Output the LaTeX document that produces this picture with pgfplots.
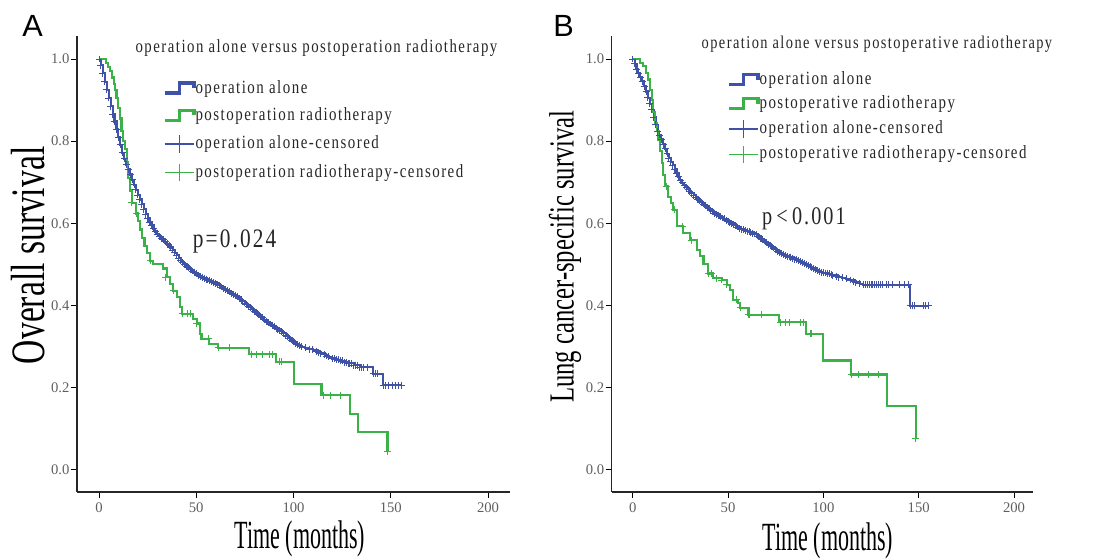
\documentclass[border=0pt]{standalone}
\usepackage{fontspec}
\setmainfont{Liberation Serif}
\newfontfamily\fx[FakeStretch=0.55]{Liberation Serif}
\newfontfamily\fy[FakeStretch=0.7]{Liberation Serif}
\newfontfamily\fm[FakeStretch=0.8, LetterSpace=8]{Liberation Serif}
\newfontfamily\fsans{Liberation Sans}
\usepackage{pgfplots}
\usepackage{pgfplotstable}
\pgfplotsset{compat=1.18}
\definecolor{kmblue}{RGB}{62,82,168}
\definecolor{kmgreen}{RGB}{58,178,72}
\definecolor{tickgray}{RGB}{95,95,95}

\pgfplotsset{
  km/.style={
    scale only axis, height=342pt,
    axis lines*=left,
    xmin=-11.3, xmax=211.3, ymin=-0.054, ymax=1.056,
    xtick={0,50,100,150,200}, ytick={0,0.2,0.4,0.6,0.8,1},
    tick align=outside, major tick length=4.5pt,
    tick style={black, line width=0.6pt},
    axis line style={black!85, line width=0.8pt},
    ticklabel style={font=\fontsize{11}{11}\selectfont, text=tickgray},
    y tick label style={inner sep=1pt, /pgf/number format/.cd, fixed, fixed zerofill, precision=1, /tikz/.cd},
    /pgf/number format/assume math mode=true,
    clip=false,
    legend cell align=left,
  },
  steplegend/.style={legend image code/.code={\draw[##1,line width=2.4pt] (0pt,-3.5pt) -- (11pt,-3.5pt) -- (11pt,4pt) -- (22pt,4pt) -- (22pt,0.5pt);}},
  censblue/.style={legend image code/.code={\draw[draw=kmblue,line width=1pt] (0pt,0pt) -- (22pt,0pt) (11pt,-6.5pt) -- (11pt,6.5pt);}},
  censgreen/.style={legend image code/.code={\draw[draw=kmgreen,line width=1pt] (0pt,0pt) -- (22pt,0pt) (11pt,-6.5pt) -- (11pt,6.5pt);}},
  curve/.style={line width=1.6pt, const plot, forget plot},
  cens/.style={only marks, mark=+, mark size=2.6pt, mark options={line width=0.7pt}, forget plot},
}

% A: overall survival, operation alone
\pgfplotstableread{
t s
0 1.000
1 0.985
2 0.965
3 0.945
4 0.925
5 0.905
6 0.885
7 0.866
8 0.848
9 0.829
10 0.810
11 0.791
12 0.772
13 0.757
14 0.743
15 0.731
16 0.719
17 0.706
18 0.694
19 0.682
20 0.669
21 0.658
22 0.646
23 0.634
24 0.622
25 0.612
26 0.603
27 0.595
28 0.587
29 0.580
30 0.574
31 0.569
32 0.564
33 0.560
34 0.555
35 0.550
36 0.546
37 0.541
38 0.535
39 0.528
40 0.522
41 0.515
42 0.509
43 0.504
44 0.500
45 0.496
46 0.492
47 0.488
48 0.484
49 0.481
50 0.477
51 0.473
52 0.470
53 0.468
54 0.466
55 0.464
56 0.462
57 0.460
58 0.458
59 0.456
60 0.454
61 0.451
62 0.448
63 0.445
64 0.442
65 0.439
66 0.436
67 0.433
68 0.430
69 0.427
70 0.424
71 0.421
72 0.417
73 0.414
74 0.410
75 0.406
76 0.402
77 0.398
78 0.394
79 0.390
80 0.386
81 0.382
82 0.378
83 0.374
84 0.370
85 0.365
86 0.361
87 0.358
88 0.355
89 0.352
90 0.349
91 0.345
92 0.342
93 0.339
94 0.336
95 0.332
96 0.328
97 0.324
98 0.320
99 0.316
100 0.312
101 0.308
102 0.305
103 0.302
104 0.300
106 0.297
108 0.294
110 0.292
112 0.289
113 0.286
114 0.284
116 0.280
117 0.277
118 0.275
120 0.271
121 0.271
122 0.268
123 0.268
124 0.265
125 0.265
126 0.262
127 0.262
128 0.259
129 0.259
130 0.259
131 0.255
132 0.255
133 0.255
134 0.250
135 0.250
136 0.250
138 0.250
141 0.234
142 0.234
143 0.234
146 0.206
147.5 0.206
149 0.206
151 0.206
152.5 0.206
154 0.206
155.5 0.206
}\blueA

% A: overall survival, postoperation radiotherapy
\pgfplotstableread{
t s
0 1.000
3.6 0.990
4.5 0.980
5.6 0.970
6.5 0.955
7.5 0.940
8.2 0.925
9.0 0.905
9.9 0.880
10.8 0.855
11.6 0.825
12.5 0.800
13.4 0.780
14.3 0.750
15.1 0.710
16.0 0.680
16.8 0.650
19.0 0.624
20.0 0.605
21.1 0.585
22.3 0.565
23.4 0.545
24.5 0.527
26.2 0.509
27.9 0.502
33.0 0.490
34.8 0.469
36.5 0.453
38.2 0.436
39.9 0.420
41.6 0.396
42.5 0.380
48.5 0.368
50.2 0.356
51.9 0.331
52.7 0.319
56.7 0.307
61.3 0.297
77.2 0.281
90.9 0.263
100.2 0.208
114.4 0.182
128.9 0.136
133.2 0.091
148.3 0.044
}\greenA

\pgfplotstableread{
t s
16.8 0.650
19.3 0.624
26.5 0.509
34.0 0.469
38.5 0.436
43.0 0.380
45.5 0.380
47.0 0.380
50.2 0.356
56.2 0.319
61.3 0.297
67.3 0.297
78.2 0.281
80.8 0.281
84.2 0.281
87.7 0.281
89.4 0.281
93.0 0.263
93.8 0.263
115.4 0.182
118.8 0.182
124.0 0.182
148.3 0.044
}\greenAcens

% B: lung cancer-specific survival, operation alone
\pgfplotstableread{
t s
0 1.000
1 0.988
2 0.975
3 0.965
4 0.956
5 0.946
6 0.934
7 0.921
8 0.906
9 0.891
10 0.876
11 0.858
12 0.840
13 0.824
14 0.815
15 0.805
16 0.793
17 0.781
18 0.769
19 0.759
20 0.750
21 0.741
22 0.731
23 0.722
24 0.713
25 0.705
26 0.699
27 0.693
28 0.688
29 0.683
30 0.677
31 0.673
32 0.668
33 0.664
34 0.659
35 0.655
36 0.651
37 0.647
38 0.643
39 0.639
40 0.635
41 0.632
42 0.628
43 0.625
44 0.622
45 0.619
46 0.616
47 0.613
48 0.611
49 0.608
50 0.605
51 0.602
52 0.600
53 0.597
54 0.594
55 0.591
56 0.588
57 0.586
58 0.585
59 0.583
60 0.581
61 0.579
62 0.578
63 0.576
64 0.574
65 0.572
66 0.568
67 0.564
68 0.560
69 0.557
70 0.553
71 0.549
72 0.546
73 0.543
74 0.540
75 0.536
76 0.532
77 0.528
78 0.526
79 0.524
80 0.522
81 0.520
82 0.518
83 0.517
84 0.515
85 0.513
86 0.511
87 0.509
88 0.507
89 0.504
90 0.502
91 0.499
92 0.497
93 0.494
94 0.492
95 0.490
96 0.487
97 0.485
98 0.482
99 0.481
100 0.480
101 0.479
102 0.478
103 0.477
104 0.475
105 0.474
107 0.471
108 0.469
110 0.467
112 0.465
114 0.462
116 0.459
117 0.456
119 0.453
121 0.450
122 0.450
123 0.450
124 0.450
125 0.450
126 0.450
127 0.450
128 0.450
129 0.450
130 0.450
131 0.450
133 0.450
134 0.450
136 0.450
140 0.450
142.8 0.450
144.6 0.450
145.5 0.399
146.5 0.399
148 0.399
152.4 0.399
153.8 0.399
155.1 0.399
}\blueB

% B: lung cancer-specific survival, postoperative radiotherapy
\pgfplotstableread{
t s
0 1.000
3.8 0.990
5.6 0.982
7.0 0.965
8.2 0.950
9.2 0.925
10.0 0.901
10.8 0.870
11.7 0.845
12.6 0.825
13.5 0.804
14.4 0.775
15.2 0.747
16.1 0.718
17.0 0.690
18.7 0.665
20.0 0.650
21.3 0.633
23.1 0.593
26.6 0.576
30.1 0.559
33.6 0.535
35.3 0.520
37.1 0.502
39.7 0.478
42.3 0.466
46.7 0.462
49.3 0.450
51.0 0.438
52.4 0.414
55.4 0.406
56.3 0.394
60.7 0.377
76.9 0.359
90.9 0.331
100.0 0.266
114.3 0.232
133.2 0.155
148.4 0.077
}\greenB

\pgfplotstableread{
t s
17.5 0.690
22.0 0.633
26.0 0.593
31.0 0.559
39.7 0.478
41.4 0.478
44.1 0.466
46.7 0.462
49.3 0.450
54.5 0.414
56.3 0.394
60.7 0.377
61.5 0.377
67.7 0.377
77.3 0.359
79.9 0.359
82.2 0.359
87.8 0.359
89.5 0.359
93.0 0.331
93.9 0.331
114.9 0.232
118.4 0.232
123.6 0.232
128.8 0.232
148.4 0.077
}\greenBcens

\begin{document}
\begin{tikzpicture}
\path[use as bounding box] (0,0) rectangle (827.25pt,420pt);

\node[anchor=base west, inner sep=0pt, font=\fsans\fontsize{23}{23}\selectfont] at (16.5pt,392.25pt) {A};
\node[anchor=base west, inner sep=0pt, font=\fsans\fontsize{23}{23}\selectfont] at (414.75pt,392.25pt) {B};

\begin{axis}[km, at={(57.75pt,51pt)}, anchor=south west, width=324.75pt,
  xlabel={Time (months)},
  ylabel={Overall survival},
  xlabel style={at={(axis description cs:0.515,-0.063)}, anchor=north, inner sep=0pt, font=\fx\fontsize{30}{30}\selectfont},
  ylabel style={at={(axis description cs:-0.114,0.519)}, anchor=center, inner sep=0pt, font=\fy\fontsize{36}{36}\selectfont},
  legend style={draw=none, fill=none, at={(0.1986,0.904)}, anchor=north west,
    font=\fm\fontsize{14}{14}\selectfont, text=black!85, row sep=7.6pt,
    inner sep=0pt, outer sep=0pt,
    nodes={inner sep=0pt, text height=10pt, text depth=3pt},
    /tikz/every even column/.append style={column sep=3.75pt}},
]
\addplot[kmblue, curve] table {\blueA};
\addplot[kmblue, cens] table {\blueA};
\addplot[kmgreen, curve] table {\greenA};
\addplot[kmgreen, cens] table {\greenAcens};
\addlegendimage{kmblue, steplegend}
\addlegendentry{operation alone}
\addlegendimage{kmgreen, steplegend}
\addlegendentry{postoperation radiotherapy}
\addlegendimage{kmblue, censblue}
\addlegendentry{operation alone-censored}
\addlegendimage{kmgreen, censgreen}
\addlegendentry{postoperation radiotherapy-censored}
\node[font=\fm\fontsize{13.9}{13.9}\selectfont, text=black!85] at (axis cs:111.8,1.0275) {operation alone versus postoperation radiotherapy};
\node[font=\fm\fontsize{20}{20}\selectfont, text=black!85] at (axis cs:69.7,0.555) {p=0.024};
\end{axis}

\begin{axis}[km, at={(458.8pt,51pt)}, anchor=south west, width=316pt,
  xmin=-11, xmax=210,
  xlabel={Time (months)},
  ylabel={Lung cancer-specific survival},
  xlabel style={at={(axis description cs:0.513,-0.066)}, anchor=north, inner sep=0pt, font=\fx\fontsize{30}{30}\selectfont},
  ylabel style={at={(axis description cs:-0.111,0.516)}, anchor=center, inner sep=0pt, font=\fy\fontsize{26.4}{26.4}\selectfont},
  legend style={draw=none, fill=none, at={(0.2737,0.922)}, anchor=north west,
    font=\fm\fontsize{14}{14}\selectfont, text=black!85, row sep=5pt,
    inner sep=0pt, outer sep=0pt,
    nodes={inner sep=0pt, text height=10pt, text depth=3pt},
    /tikz/every even column/.append style={column sep=2.25pt}},
]
\addplot[kmblue, curve] table {\blueB};
\addplot[kmblue, cens] table {\blueB};
\addplot[kmgreen, curve] table {\greenB};
\addplot[kmgreen, cens] table {\greenBcens};
\addlegendimage{kmblue, steplegend}
\addlegendentry{operation alone}
\addlegendimage{kmgreen, steplegend}
\addlegendentry{postoperative radiotherapy}
\addlegendimage{kmblue, censblue}
\addlegendentry{operation alone-censored}
\addlegendimage{kmgreen, censgreen}
\addlegendentry{postoperative radiotherapy-censored}
\node[font=\fm\fontsize{13.5}{13.5}\selectfont, text=black!85] at (axis cs:128.1,1.036) {operation alone versus postoperative radiotherapy};
\node[font=\fm\fontsize{19}{19}\selectfont, text=black!85] at (axis cs:89.8,0.61) {p\,<\,0.001};
\end{axis}
\end{tikzpicture}
\end{document}
